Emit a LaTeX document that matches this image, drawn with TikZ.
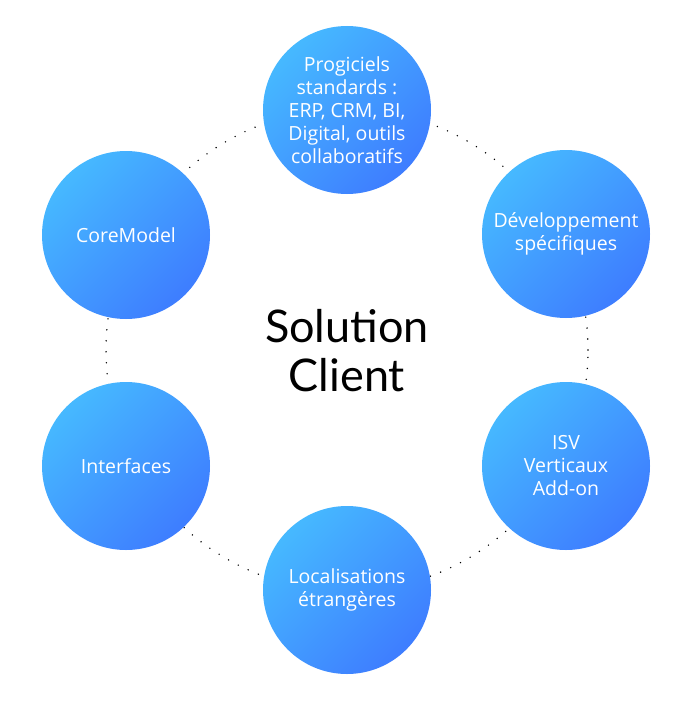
\documentclass[tikz,border=0pt]{standalone}
\usepackage{fontspec}
\setmainfont{Lato}
\newfontfamily\bullefont{Open Sans}
\definecolor{bulleclair}{HTML}{46B9FF}
\definecolor{bullefonce}{HTML}{3E7DFF}

\begin{document}
\begin{tikzpicture}[x=1pt, y=-1pt, font=\bullefont\fontsize{19.5}{23}\selectfont,
    bulle/.style={circle, minimum size=168pt, inner sep=0pt,
      left color=bulleclair, right color=bullefonce, shading angle=45,
      text=white, align=center},
    anneau/.style={circle, draw=black, line width=1.6pt,
      dash pattern=on 0pt off 11pt, line cap=round}]
  \useasboundingbox (0,0) rectangle (693,701);
  \node[anneau, minimum size=482pt] (ring) at (347,350) {};
  \foreach \nom/\px/\py/\txt in {
      progiciels/347/110/{Progiciels\\standards :\\ERP, CRM, BI,\\Digital, outils\\collaboratifs},
      devspec/566/234/{Développement\\spécifiques},
      isv/566/466/{ISV\\Verticaux\\Add-on},
      locales/347/590/{Localisations\\étrangères},
      interfaces/126/466/{Interfaces},
      coremodel/126/235/{CoreModel}}
    {\node[bulle] (\nom) at (\px,\py) {\txt};}
  \node[font=\rmfamily\fontsize{45}{49}\selectfont, align=center] (titre) at (347,351) {Solution\\Client};
\end{tikzpicture}
\end{document}
